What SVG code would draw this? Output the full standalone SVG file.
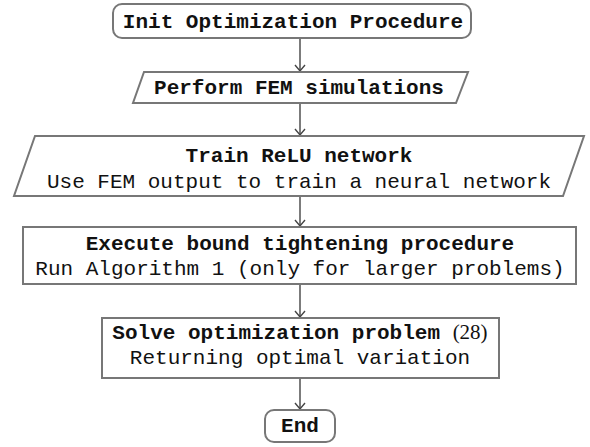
<svg xmlns="http://www.w3.org/2000/svg" width="590" height="447" viewBox="0 0 590 447">
<defs>
<marker id="arr" markerUnits="userSpaceOnUse" markerWidth="14" markerHeight="14" viewBox="-7 -7 14 14" refX="0" refY="0" orient="auto">
<path d="M-6,-5 L0,0 L-6,5" fill="none" stroke="#444" stroke-width="1.4"/>
</marker>
</defs>
<style>
.shape{fill:#fff;stroke:#777;stroke-width:2}
.t{font-family:"Liberation Mono","DejaVu Sans Mono",monospace;font-size:21px;fill:#111;text-anchor:middle}
.b{font-weight:bold}
.serif{font-family:"Liberation Serif","Times New Roman",serif;font-weight:normal}
.conn{stroke:#444;stroke-width:1.4;fill:none}
</style>
<rect width="590" height="447" fill="#fff"/>
<g id="connectors">
<line class="conn" x1="300" y1="38" x2="300" y2="71" marker-end="url(#arr)"/>
<line class="conn" x1="300" y1="103" x2="300" y2="135" marker-end="url(#arr)"/>
<line class="conn" x1="300" y1="196" x2="300" y2="226" marker-end="url(#arr)"/>
<line class="conn" x1="300" y1="284" x2="300" y2="317" marker-end="url(#arr)"/>
<line class="conn" x1="300" y1="378" x2="300" y2="409" marker-end="url(#arr)"/>
</g>
<g id="init">
<rect class="shape" x="113" y="4" width="358" height="34" rx="9"/>
<text class="t b" x="293" y="28">Init Optimization Procedure</text>
</g>
<g id="fem">
<polygon class="shape" points="144,72 468,72 456,103 133,103"/>
<text class="t b" x="299" y="94">Perform FEM simulations</text>
</g>
<g id="train">
<polygon class="shape" points="35,136 584,136 563,196 14,196"/>
<text class="t b" x="299" y="162">Train ReLU network</text>
<text class="t" x="299" y="188">Use FEM output to train a neural network</text>
</g>
<g id="bound">
<rect class="shape" x="23" y="227" width="553" height="57"/>
<text class="t b" x="300" y="250">Execute bound tightening procedure</text>
<text class="t" x="300" y="275">Run Algorithm 1 (only for larger problems)</text>
</g>
<g id="solve">
<rect class="shape" x="102" y="318" width="397" height="60"/>
<text class="t b" x="300" y="339">Solve optimization problem <tspan class="serif">(28)</tspan></text>
<text class="t" x="300" y="364">Returning optimal variation</text>
</g>
<g id="end">
<rect class="shape" x="265" y="410" width="70" height="32" rx="9"/>
<text class="t b" x="300" y="432">End</text>
</g>
</svg>
